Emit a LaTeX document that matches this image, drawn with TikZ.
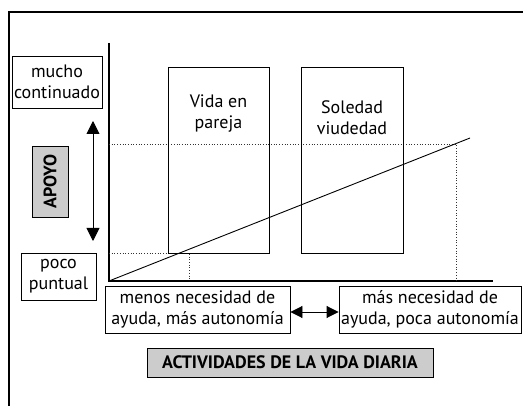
\documentclass[tikz,border=0pt]{standalone}
\usepackage{fontspec}
\setmainfont{PT Sans}
\usetikzlibrary{arrows.meta}
\tikzset{
  txt/.style={font=\fontsize{18}{21}\selectfont, align=center, inner sep=0pt},
  box/.style={draw, line width=0.9pt, inner sep=0pt, align=center, font=\fontsize{18}{21}\selectfont},
  graybox/.style={box, fill=black!20, font=\bfseries\fontsize{18}{21}\selectfont},
  frame/.style={line width=1.2pt},
  axis/.style={line width=1.1pt},
  guide/.style={line width=0.7pt, dotted, black!80},
  trend/.style={line width=0.9pt},
  dblarrow/.style={line width=0.9pt, {Triangle[width=13pt,length=13pt]}-{Triangle[width=13pt,length=13pt]}},
  hdblarrow/.style={line width=0.9pt, {Triangle[width=12pt,length=12pt]}-{Triangle[width=12pt,length=12pt]}}
}
\begin{document}
\begin{tikzpicture}[x=1pt,y=-1pt]
\useasboundingbox (0,0) rectangle (523,406);
% outer frame
\draw[frame] (9,406) -- (9,12) -- (523,12);
% axes
\coordinate (ytop) at (109,43);
\coordinate (orig) at (109,281);
\coordinate (xend) at (493,281);
\draw[axis] (ytop) -- (orig) -- (xend);
% guides
\coordinate (g1a) at (109,144);
\coordinate (g1b) at (456,144);
\coordinate (g1c) at (456,281);
\coordinate (g2a) at (109,253);
\coordinate (g2b) at (189,253);
\coordinate (g2c) at (189,281);
\draw[guide] (g1a) -- (g1b) -- (g1c);
\draw[guide] (g2a) -- (g2b) -- (g2c);
% boxes
\node[box, minimum width=101pt, minimum height=186pt] (vida) at (218.5,160) {};
\node[txt] (vidatxt) at (218.5,114) {Vida en\\pareja};
\node[box, minimum width=102pt, minimum height=186pt] (sol) at (352,160) {};
\node[txt] (soltxt) at (352,117.5) {Soledad\\viudedad};
% trend line
\coordinate (tend) at (470,138);
\draw[trend] (orig) -- (tend);
% left labels
\node[box, minimum width=90pt, minimum height=52pt] (mucho) at (57,82) {mucho\\continuado};
\node[box, minimum width=75pt, minimum height=47pt] (poco) at (58.5,276.5) {poco\\puntual};
\node[graybox, rotate=90, minimum width=71pt, minimum height=36pt] (apoyo) at (50,181.5) {APOYO};
\coordinate (va) at (93,121);
\coordinate (vb) at (93,241);
\draw[dblarrow] (va) -- (vb);
% bottom labels
\node[box, minimum width=185pt, minimum height=47pt] (menos) at (197.5,309.5) {menos necesidad de\\ayuda, más autonomía};
\node[box, minimum width=182pt, minimum height=47pt] (mas) at (430,309.5) {más necesidad de\\ayuda, poca autonomía};
\draw[hdblarrow] ([yshift=-2.5pt]menos.east) -- ([yshift=-2.5pt]mas.west);
\node[graybox, minimum width=286pt, minimum height=29pt] (act) at (290,362.5) {ACTIVIDADES DE LA VIDA DIARIA};
\end{tikzpicture}
\end{document}
